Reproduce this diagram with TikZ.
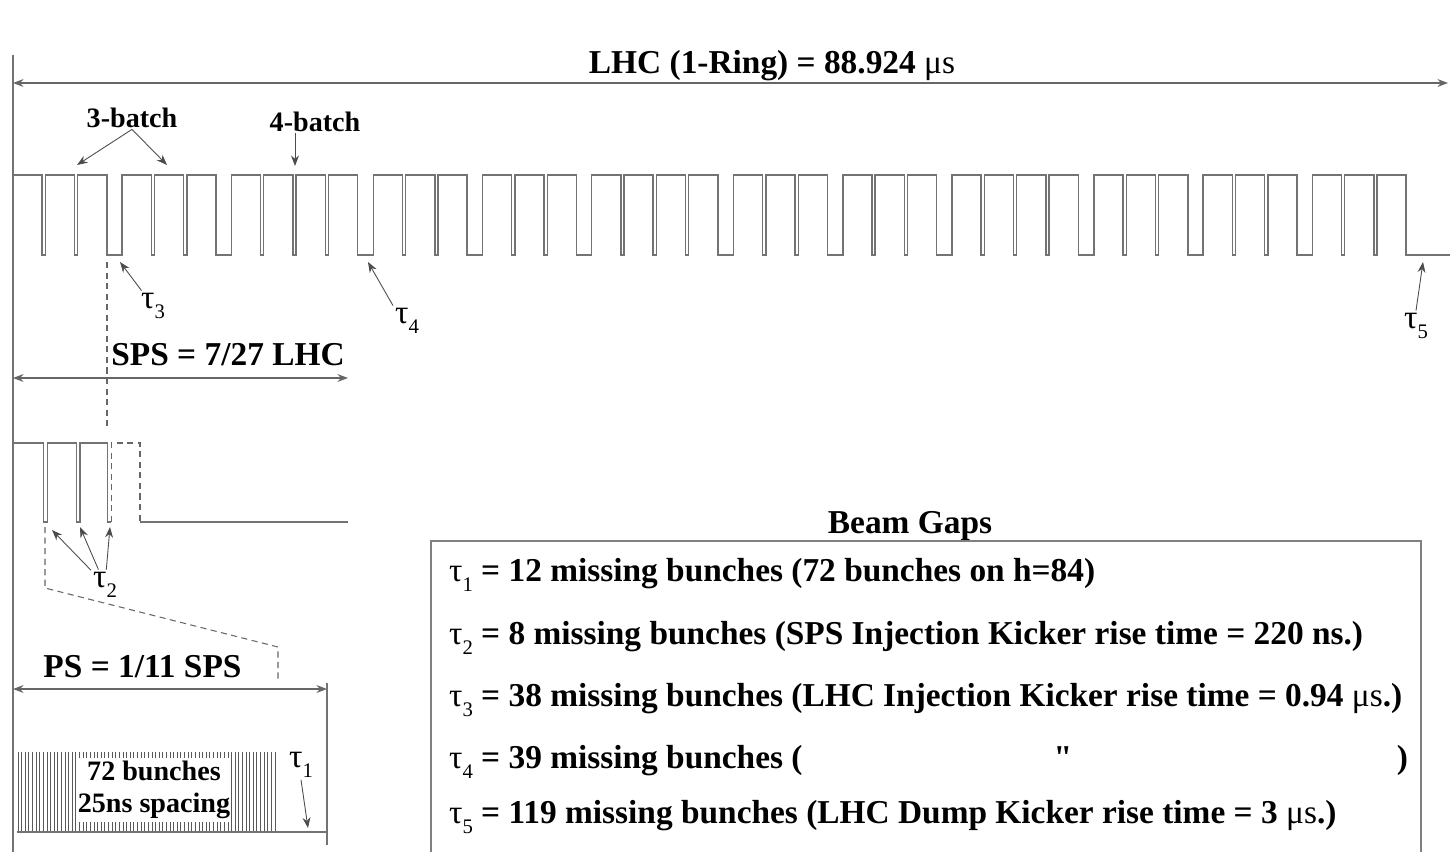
\documentclass[tikz,border=0pt]{standalone}
\usepackage{fontspec}
\setmainfont{Liberation Serif}
\newfontfamily\kaal{Liberation Serif}[Ligatures=ResetAll]
\usetikzlibrary{arrows.meta}
\newcommand{\gat}[1]{{\normalfont τ\raisebox{-0.32em}{\scalebox{0.62}{#1}}}}
\newcommand{\perbunch}{0.4044}
\begin{document}
\begin{tikzpicture}[>={Stealth[length=6pt, width=4.5pt]}, x=0.02cm, y=-0.02cm]

% --- Stijldefinities ---
\tikzset{
    tekst/.style={
        font=\fontsize{19}{21}\selectfont\bfseries,
        inner sep=1pt
    },
    klein/.style={
        font=\fontsize{16}{18}\selectfont\bfseries,
        inner sep=1pt
    },
    gatlabel/.style={
        font=\fontsize{19}{21}\selectfont,
        inner sep=1pt
    },
    signaal/.style={draw=black!55, line width=0.8pt},
    streep/.style={draw=black!60, line width=0.6pt, dash pattern=on 3.5pt off 2.5pt},
    pijl/.style={->, draw=black!70, line width=0.5pt},
    maat/.style={<->, draw=black!60, line width=0.7pt},
    bunch/.style={draw=black!65, line width=0.5pt}
}

\useasboundingbox (0,0) rectangle (1450,852);

% --- LHC ring ---
\node[tekst, anchor=base] (lhc) at (772,73) {LHC (1-Ring) = 88.924 {\normalfont μs}};
\coordinate (lhcl) at (13,83);
\coordinate (lhcr) at (1448,83);
\draw[maat] (lhcl) -- (lhcr);

% linker grens
\draw[signaal] (13,55) -- (13,852);

% 39 batches: 334 334 334 333
\draw[signaal] (13,255)
    \foreach \g in {8,8,38,8,8,38,8,8,8,39,
                    8,8,38,8,8,38,8,8,8,39,
                    8,8,38,8,8,38,8,8,8,39,
                    8,8,38,8,8,38,8,8}
    { -- ++(0,-80) -- ++(72*\perbunch,0) -- ++(0,80) -- ++(\g*\perbunch,0) }
    -- ++(0,-80) -- ++(72*\perbunch,0) -- ++(0,80) -- (1450,255);

% batch labels
\node[klein, anchor=base] (b3) at (132,127) {3-batch};
\node[klein, anchor=base] (b4) at (315,131) {4-batch};
\coordinate (c3a) at (77,165);
\coordinate (c3b) at (167,165);
\coordinate (c4) at (295,166);
\draw[pijl] (b3.south) -- (c3a);
\draw[pijl] (b3.south) -- (c3b);
\draw[pijl] (b4.south -| c4) -- (c4);

% gaten in de LHC
\node[gatlabel, anchor=base] (t3) at (153,308) {\gat{3}};
\node[gatlabel, anchor=base] (t4) at (407,323) {\gat{4}};
\node[gatlabel, anchor=base] (t5) at (1416,328) {\gat{5}};
\coordinate (c3) at (120,262);
\coordinate (c4g) at (368,262);
\coordinate (c5) at (1423,262);
\draw[pijl] (t3) -- (c3);
\draw[pijl] (t4.north west) -- (c4g);
\draw[pijl] (t5.north) -- (c5);

% --- SPS ---
\node[tekst, anchor=base] (sps) at (228,365) {SPS = 7/27 LHC};
\coordinate (spsl) at (13,378);
\coordinate (spsr) at (348,378);
\draw[maat] (spsl) -- (spsr);

\coordinate (zoom1) at (107,262);
\coordinate (zoom2) at (107,430);
\draw[streep] (zoom1) -- (zoom2);

\draw[signaal] (13,443) -- (43.3,443) -- (43.3,522) -- (47.7,522) -- (47.7,443)
    -- (76.7,443) -- (76.7,522) -- (80,522) -- (80,443)
    -- (107.3,443) -- (107.3,522) -- (111.3,522);
\draw[streep] (111.3,522) -- (111.3,443) -- (140,443) -- (140,522);
\draw[signaal] (140,522) -- (348,522);

\node[gatlabel, anchor=base] (t2) at (105,587) {\gat{2}};
\coordinate (c2a) at (52,530);
\coordinate (c2b) at (80,527);
\coordinate (c2c) at (110,527);
\draw[pijl] (t2) -- (c2a);
\draw[pijl] (t2) -- (c2b);
\draw[pijl] (t2) -- (c2c);

% uitvergroting naar de PS
\draw[streep] (45,527) -- (45,588) -- (278,647) -- (278,680);

% --- PS ---
\node[tekst, anchor=base] (ps) at (142.5,677) {PS = 1/11 SPS};
\coordinate (psl) at (13,689);
\coordinate (psr) at (327,689);
\draw[maat] (psl) -- (psr);
\draw[signaal] (327,683) -- (327,845);

\foreach \i in {0,...,71}
    \draw[bunch] (18+\i*3.62,752) -- (18+\i*3.62,832);
\draw[signaal] (16.7,832) -- (327,832);
\node[klein, fill=white, align=center, inner xsep=0pt,
      minimum width=152*0.02cm, minimum height=64*0.02cm] (bunches) at (154,790)
    {72 bunches\\25ns spacing};

\node[gatlabel, anchor=base] (t1) at (301,767) {\gat{1}};
\coordinate (c1) at (308,828);
\draw[pijl] (t1.south) -- (c1);

% --- Beam Gaps ---
\node[tekst, anchor=base] (titel) at (910,533) {Beam Gaps};
\draw[draw=black!50, line width=0.7pt] (431,852) -- (431,541) -- (1421,541) -- (1421,852);

\node[tekst, anchor=base west] (g1) at (447,581) {\gat{1} = 12 missing bunches (72 bunches on h=84)};
\node[tekst, anchor=base west] (g2) at (447,644) {\gat{2} = 8 missing bunches (SPS Injection Kicker rise time = 220 ns.)};
\node[tekst, anchor=base west] (g3) at (447,706) {\gat{3} = 38 missing bunches (LHC Injection Kicker rise time = 0.94 {\normalfont μs}.)};
\node[tekst, anchor=base west] (g4) at (447,768) {\gat{4} = 39 missing bunches (};
\node[tekst, anchor=base] (g4q) at (1063,768) {{\kaal\bfseries\char"22}};
\node[tekst, anchor=base east] (g4h) at (1410,768) {)};
\node[tekst, anchor=base west] (g5) at (447,823) {\gat{5} = 119 missing bunches (LHC Dump Kicker rise time = 3 {\normalfont μs}.)};

\end{tikzpicture}
\end{document}
